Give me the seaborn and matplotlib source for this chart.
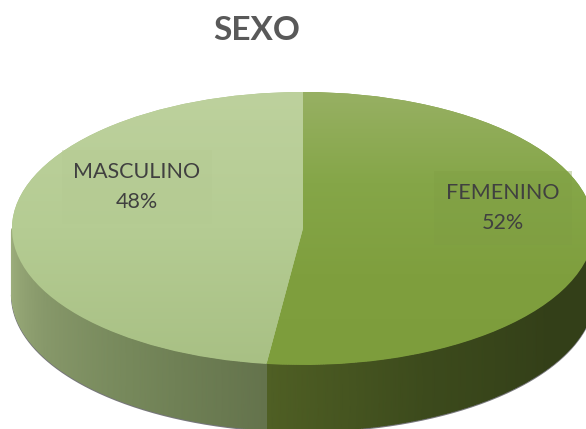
import numpy as np
import matplotlib
matplotlib.use("Agg")
import matplotlib.pyplot as plt
from matplotlib.colors import LinearSegmentedColormap as LSC
import seaborn as sns

title = "SEXO"
categories = ["FEMENINO", "MASCULINO"]
shares = [52, 48]

W, H = 586, 429
CX, CY, RX, RY, DEPTH = 303, 228.5, 291, 136.5, 66
depth = DEPTH / RY

sns.set_theme(style="white")
plt.rcParams["font.family"] = ["Lato", "DejaVu Sans"]

def dx(px):
    return (px - CX) / RX

def dy(py):
    return (CY - py) / RY

fig = plt.figure(figsize=(W / 100, H / 100), dpi=100)
ax = fig.add_axes([0, 0, 1, 1])

base = ["#7f9f3e", "#a9c183"]
wedges, _ = ax.pie(shares, startangle=90, counterclock=False, radius=1,
                   colors=base, wedgeprops=dict(linewidth=0))
ax.set_aspect("auto")

# gradient of the top face
top_maps = [LSC.from_list("f", ["#97b063", "#85a648", "#7f9f3e", "#7d9d3c"]),
            LSC.from_list("m", ["#bdd19d", "#b5cc93", "#a8c084"])]
for w, cm in zip(wedges, top_maps):
    im = ax.imshow(np.linspace(0, 1, 256).reshape(-1, 1), cmap=cm, aspect="auto",
                   extent=(-1, 1, -1, 1), origin="upper", zorder=3, vmin=0, vmax=1)
    im.set_clip_path(w)

# rim of the disc, drawn from the same shares
boundary = -90 - (np.cumsum(shares)[0] / sum(shares) * 360 - 180)
ang_f = np.radians(np.linspace(boundary, 0, 200))
ang_m = np.radians(np.linspace(-180, boundary, 200))
rim_maps = [(ang_f, LSC.from_list("fs", ["#4f5f24", "#3c4a1c", "#333f18", "#333f18"])),
            (ang_m, LSC.from_list("ms", ["#9fb07e", "#87986a", "#75875a", "#64734c"]))]

# soft shadow under the rim
t = np.radians(np.linspace(-180, 0, 400))
ax.plot(np.cos(t), np.sin(t) - depth - 0.004, color="#55555a", lw=1.6, alpha=0.8,
        zorder=1, solid_capstyle="round")
ax.plot(np.full(2, -1.0) - 0.002, [-depth, -0.02], color="#8a8a8a", lw=0.8, zorder=0.5)

for a, cm in rim_maps:
    x = np.cos(a)
    X = np.vstack([x, x])
    Y = np.vstack([np.sin(a), np.sin(a) - depth])
    C = np.vstack([np.linspace(0, 1, a.size)] * 2)
    ax.pcolormesh(X, Y, C, cmap=cm, shading="gouraud", zorder=2, vmin=0, vmax=1)

ax.set_xlim(dx(0), dx(W))
ax.set_ylim(dy(H), dy(0))
ax.axis("off")

fig.text(257 / W, 1 - 31 / H, title, fontsize=24, fontweight="bold", color="#595959",
         ha="center", va="center")

labels = [(503, 208, "#7f9e44"), (137, 187, "#b4ca92")]
for (px, py, bg), cat, s in zip(labels, categories, shares):
    ax.text(dx(px), dy(py), f"{cat}\n{s}%", fontsize=15.5, color="#404040", ha="center",
            va="center", linespacing=1.65, zorder=5,
            bbox=dict(boxstyle="square,pad=0.55", facecolor=bg, edgecolor="none", alpha=0.35))

fig.savefig("out.png", dpi=100)
